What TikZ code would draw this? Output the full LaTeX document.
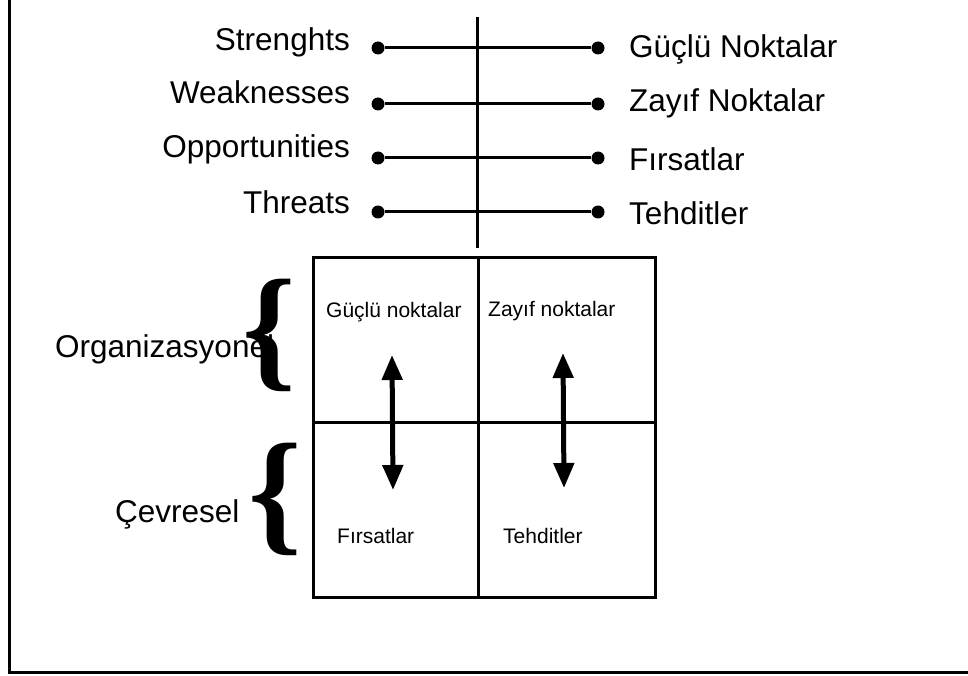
\documentclass[tikz,border=0pt]{standalone}
\usepackage{fontspec}
\setmainfont{Liberation Sans}
\newfontfamily\bracefont{Liberation Serif Bold}
\usetikzlibrary{arrows.meta}
\begin{document}
\begin{tikzpicture}[x=1pt,y=-1pt,
  big/.style={inner sep=0pt,font=\fontsize{31.5}{36}\selectfont},
  small/.style={inner sep=0pt,font=\fontsize{21}{25}\selectfont},
  dot/.style={circle,fill=black,inner sep=0pt,minimum size=13pt},
  conn/.style={line width=3pt},
  grid/.style={line width=3pt},
  dbl/.style={line width=5pt,{Triangle[length=25pt,width=20pt]}-{Triangle[length=25pt,width=20pt]}},
  brace/.style={inner sep=0pt,font=\bracefont\fontsize{136}{136}\selectfont}]
\useasboundingbox (0,0) rectangle (968,676);
% frame
\coordinate (ftop) at (9,0);
\coordinate (fcorner) at (9,672);
\coordinate (fright) at (968,672);
\draw[line width=3pt] (ftop) -- (fcorner) -- (fright);
% vertical separator
\coordinate (vt) at (477,17);
\coordinate (vb) at (477,248);
\draw[conn] (vt) -- (vb);
% left labels
\node[big,anchor=base east] (lS) at (350,51) {Strenghts};
\node[big,anchor=base east] (lW) at (350,104) {Weaknesses};
\node[big,anchor=base east] (lO) at (350,158) {Opportunities};
\node[big,anchor=base east] (lT) at (350,214) {Threats};
% right labels
\node[big,anchor=base west] (rS) at (629,58) {Güçlü Noktalar};
\node[big,anchor=base west] (rW) at (629,112) {Zayıf Noktalar};
\node[big,anchor=base west] (rO) at (629,171) {Fırsatlar};
\node[big,anchor=base west] (rT) at (629,225) {Tehditler};
% dots and connectors
\node[dot] (dSL) at (378,48) {};
\node[dot] (dSR) at (598,48) {};
\node[dot] (dWL) at (378,104) {};
\node[dot] (dWR) at (598,104) {};
\node[dot] (dOL) at (378,158) {};
\node[dot] (dOR) at (598,158) {};
\node[dot] (dTL) at (378,212) {};
\node[dot] (dTR) at (598,212) {};
\draw[conn] (dSL) -- (dSR);
\draw[conn] (dWL) -- (dWR);
\draw[conn] (dOL) -- (dOR);
\draw[conn] (dTL) -- (dTR);
% grid
\coordinate (g1) at (313,257);
\coordinate (g2) at (655,597);
\draw[grid] (g1) rectangle (g2);
\coordinate (gmt) at (478,257);
\coordinate (gmb) at (478,597);
\coordinate (gml) at (313,422);
\coordinate (gmr) at (657,422);
\draw[grid] (gmt) -- (gmb);
\draw[grid] (gml) -- (gmr);
% cell texts
\node[small,anchor=base west] (cS) at (326,317) {Güçlü noktalar};
\node[small,anchor=base west] (cW) at (488,316) {Zayıf noktalar};
\node[small,anchor=base west] (cO) at (337,543) {Fırsatlar};
\node[small,anchor=base west] (cT) at (503,543) {Tehditler};
% arrows
\coordinate (a1t) at (392,355);
\coordinate (a1b) at (393,490);
\coordinate (a2t) at (563,353);
\coordinate (a2b) at (564,488);
\draw[dbl] (a1t) -- (a1b);
\draw[dbl] (a2t) -- (a2b);
% side labels and braces
\node[big,anchor=base west] (org) at (55,357) {Organizasyonel};
\node[big,anchor=base west] (cev) at (115,522) {Çevresel};
\node[brace,anchor=base west] (b1) at (242,373) {\{};
\node[brace,anchor=base west] (b2) at (248,537) {\{};
\end{tikzpicture}
\end{document}
